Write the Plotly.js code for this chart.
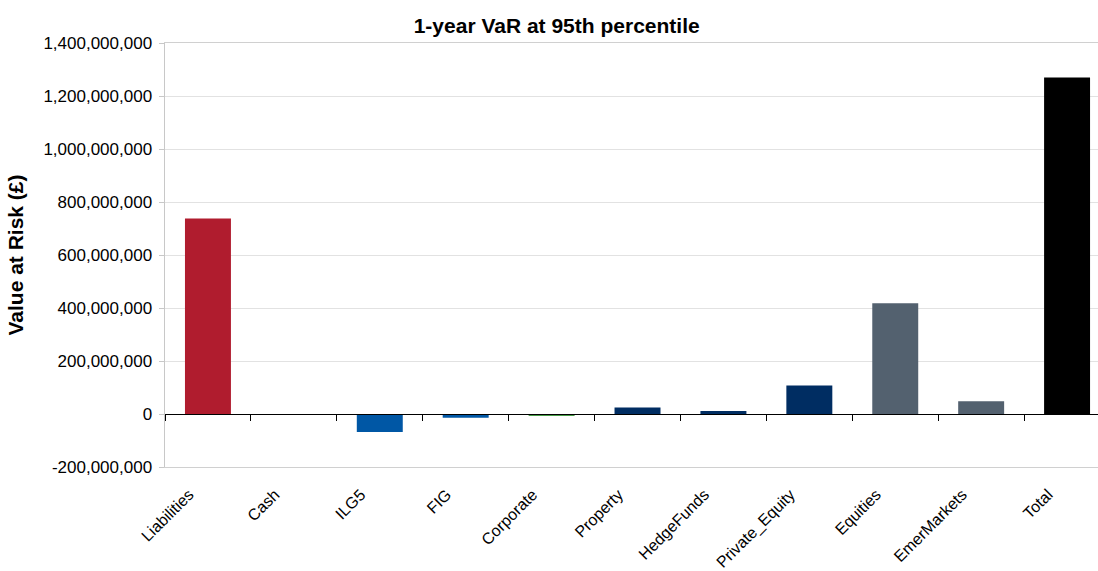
<!DOCTYPE html>
<html>
<head>
<meta charset="utf-8">
<script src="https://cdn.plot.ly/plotly-3.0.1.min.js"></script>
<style>html,body{margin:0;padding:0;background:#fff;}#chart{width:1098px;height:571px;}</style>
</head>
<body>
<div id="chart"></div>
<script>
var categories = ["Liabilities","Cash","ILG5","FIG","Corporate","Property","HedgeFunds","Private_Equity","Equities","EmerMarkets","Total"];
var values = [738000000, 0, -68000000, -14000000, -7000000, 25000000, 11000000, 108000000, 418000000, 48000000, 1270000000];
var barColors = ["#b01c2e","#0057a5","#0057a5","#0057a5","#0a7a0a","#002d62","#002d62","#002d62","#53616f","#53616f","#000000"];
var yTicks = [-200000000, 0, 200000000, 400000000, 600000000, 800000000, 1000000000, 1200000000, 1400000000];
var yTickLabels = yTicks.map(function(v){ return v.toLocaleString('en-US'); });
var idx = categories.map(function(c, i){ return i; });
var boundaries = [];
for (var i = 0; i <= categories.length; i++) boundaries.push(i - 0.5);

var FONT = "Liberation Sans, Arial, sans-serif";
var xRange = [-0.5, 10.36];

var data = [{
  type: "bar",
  x: idx,
  y: values,
  marker: { color: barColors, line: { width: 0 } },
  width: 0.535,
  hoverinfo: "x+y"
}, {
  type: "scatter",
  mode: "none",
  x: boundaries,
  y: boundaries.map(function(){ return 0; }),
  xaxis: "x2",
  yaxis: "y",
  hoverinfo: "skip",
  showlegend: false
}];

var layout = {
  width: 1098, height: 571,
  margin: { l: 165, r: 0, t: 43, b: 104 },
  paper_bgcolor: "#fff", plot_bgcolor: "#fff",
  font: { family: FONT, color: "#000" },
  showlegend: false,
  title: { text: "<b>1-year VaR at 95th percentile</b>", font: { size: 21, family: FONT, color: "#000" }, x: 0.507, xanchor: "center", y: 0.955, yanchor: "middle" },
  xaxis: {
    range: xRange,
    tickmode: "array",
    tickvals: idx,
    ticktext: categories,
    tickangle: -45,
    ticks: "",
    tickfont: { size: 16, family: FONT, color: "#000" },
    ticklabelstandoff: 11,
    ticklabelshift: -19,
    showgrid: false, zeroline: false,
    showline: true, linecolor: "#d0d0d0", linewidth: 1, mirror: true
  },
  xaxis2: {
    overlaying: "x",
    anchor: "free",
    position: 0.125,
    side: "bottom",
    range: xRange,
    tickmode: "array",
    tickvals: boundaries,
    ticks: "outside", ticklen: 6, tickwidth: 1, tickcolor: "#000",
    showticklabels: false,
    showgrid: false, zeroline: false,
    showline: true, linecolor: "#000", linewidth: 1.2
  },
  yaxis: {
    range: [-200000000, 1400000000],
    tickmode: "array",
    tickvals: yTicks,
    ticktext: yTickLabels,
    ticks: "outside", ticklen: 5, tickcolor: "#c8c8c8",
    tickfont: { size: 17, family: FONT, color: "#000" },
    showgrid: true, gridcolor: "#e2e2e2", gridwidth: 1,
    zeroline: false,
    showline: true, linecolor: "#c8c8c8", linewidth: 1.5,
    ticklabelstandoff: 3,
    title: { text: "<b>Value at Risk (£)</b>", font: { size: 21, family: FONT, color: "#000" }, standoff: 14 }
  }
};

Plotly.newPlot("chart", data, layout, { displayModeBar: false, staticPlot: true });
</script>
</body>
</html>
